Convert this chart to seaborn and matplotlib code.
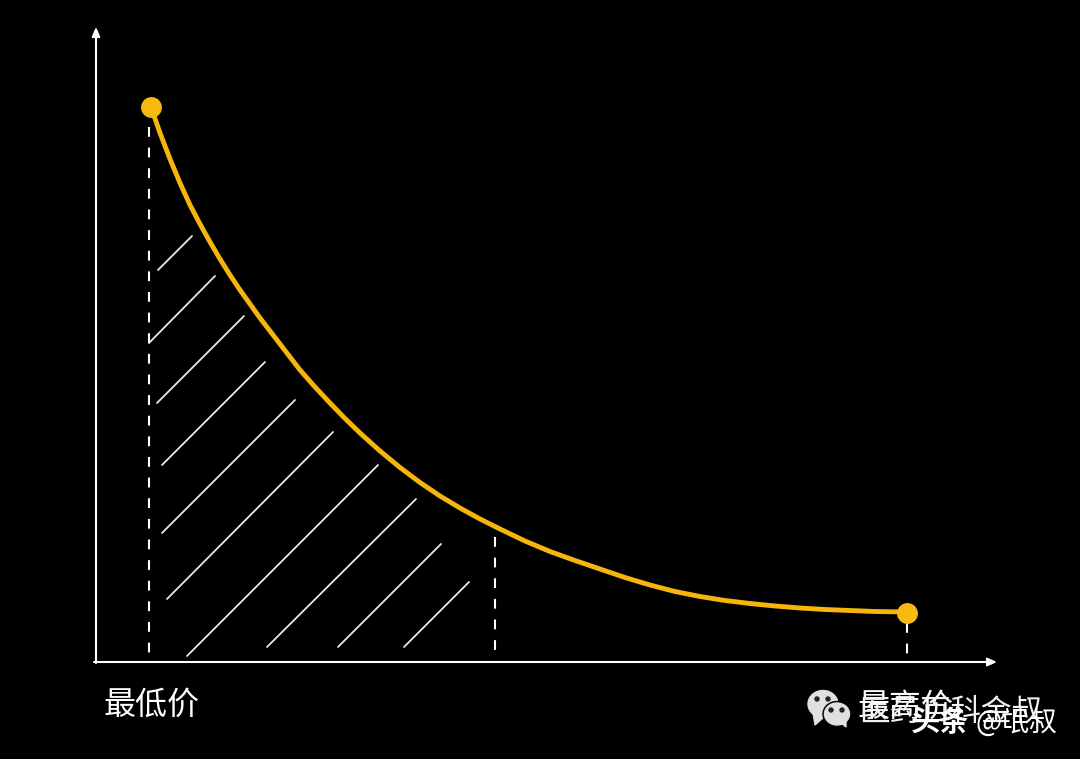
import matplotlib
matplotlib.use("Agg")
import matplotlib.pyplot as plt
import seaborn as sns
import pandas as pd
from matplotlib.patches import Ellipse, Polygon

curve_x = [151,160,170,180,190,200,210,220,230,240,250,260,270,280,290,300,315,330,345,360,380,400,420,440,460,480,500,525,550,575,600,625,650,675,700,725,750,775,800,825,850,875,906]
curve_y = [107,133,159,183,205,224,242,259,275,290,304,318,331,344,357,370,387,403,418.5,433,451,467.5,482.5,496,508,519,529,541,551.5,560.5,569,577.5,585,591.5,596.5,600.5,603.5,606,608,609.5,610.5,611.5,612]
hatch_x0 = [158,149,157,162,162,167,187,267,338,404]
hatch_y0 = [270,343,403,465,533,599,656,647,647,647]
hatch_x1 = [192,215,244,265,295,333,378,416,441,469]
hatch_y1 = [236,276,316,362,400,432,465,499,544,582]
dash_x = [149,495,907]
dash_top = [127,537,623]
dash_bottom = [658,651,654]
end_x = [151,907]
end_y = [107,612.5]
labels = ["最低价","最高价"]
watermark1 = "医药百科金叔"
watermark2a = "头条"
watermark2b = "@氓叔"

sns.set_theme(style="dark", rc={"figure.facecolor":"black","axes.facecolor":"black"})
plt.rcParams['font.family'] = ['Noto Sans CJK SC','DejaVu Sans']

fig = plt.figure(figsize=(10.8,7.59), dpi=100, facecolor="black")
ax = fig.add_axes([0,0,1,1])
ax.set_xlim(0,1080); ax.set_ylim(759,0); ax.axis("off")

for x0,y0,x1,y1 in zip(hatch_x0,hatch_y0,hatch_x1,hatch_y1):
    ax.plot([x0,x1],[y0,y1],color="#e8e8e8",lw=1.3)
for x,t,b in zip(dash_x,dash_top,dash_bottom):
    ax.plot([x,x],[t,b],color="white",lw=1.5,dashes=(4.7,5.2))

ax.annotate("",xy=(997,662),xytext=(94,662),arrowprops=dict(arrowstyle="-|>,head_width=0.2,head_length=0.45",color="white",lw=1.5,shrinkA=0,shrinkB=0))
ax.annotate("",xy=(96,27),xytext=(96,663),arrowprops=dict(arrowstyle="-|>,head_width=0.2,head_length=0.45",color="white",lw=1.5,shrinkA=0,shrinkB=0))

df = pd.DataFrame({"x":curve_x,"y":curve_y})
sns.lineplot(data=df,x="x",y="y",ax=ax,color="#F5B50C",lw=3.5,sort=False,legend=False)
ax.set_xlim(0,1080); ax.set_ylim(759,0); ax.axis("off")
sns.scatterplot(x=end_x,y=end_y,ax=ax,color="#F7BA10",s=225,linewidth=0,zorder=5)

ax.text(151,705,labels[0],color="white",fontsize=23,ha="center",va="center")
ax.text(905,707,labels[1],color="white",fontsize=23,ha="center",va="center")
ax.text(951,712,watermark1,color="#f2f2f2",fontsize=22,ha="center",va="center")
ax.text(940,722,watermark2a,color="white",fontsize=21,fontweight="bold",ha="center",va="center")
ax.text(1016,723,watermark2b,color="white",fontsize=20,ha="center",va="center")

c="#e0e0e0"
ax.add_patch(Ellipse((823,704),30,27,color=c,zorder=6))
ax.add_patch(Polygon([[813,713],[815,725],[824,717]],color=c,zorder=6))
ax.add_patch(Ellipse((837,714),28,25,color="black",zorder=7))
ax.add_patch(Ellipse((837,714),25,22,color=c,zorder=8))
ax.add_patch(Polygon([[840,722],[846,727],[846,718]],color=c,zorder=8))
for ex,ey,z in [(817,699,7),(828,699,7),(831,710,9),(842,710,9)]:
    ax.add_patch(Ellipse((ex,ey),4,4,color="#222222",zorder=z))

fig.savefig("out.png",dpi=100,facecolor="black")
